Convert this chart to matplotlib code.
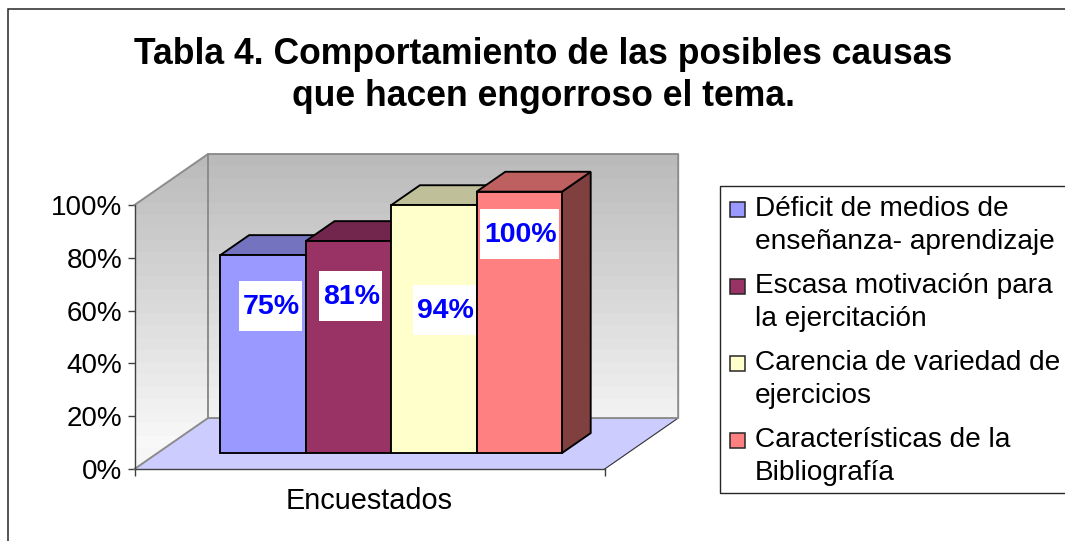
import numpy as np
import matplotlib
matplotlib.use('Agg')
import matplotlib.pyplot as plt
from matplotlib.patches import Polygon, Rectangle

plt.rcParams['font.family'] = ['Liberation Sans', 'DejaVu Sans']

title = 'Tabla 4. Comportamiento de las posibles causas\nque hacen engorroso el tema.'
category = 'Encuestados'
series = ['Déficit de medios de\nenseñanza- aprendizaje',
          'Escasa motivación para\nla ejercitación',
          'Carencia de variedad de\nejercicios',
          'Características de la\nBibliografía']
values = [75, 80.3, 93.9, 99]
value_labels = ['75%', '81%', '94%', '100%']
colors = ['#9999FF', '#993366', '#FFFFCC', '#FF8080']
y_ticks = [0, 20, 40, 60, 80, 100]
y_tick_labels = ['0%', '20%', '40%', '60%', '80%', '100%']

W, H = 1065, 541

# label boxes sit by hand like in the original, centre in axis units
label_x = [0.2892, 0.4594, 0.6593, 0.8188]
label_y = [61.7, 65.5, 60.2, 89.0]
label_w = [0.134, 0.134, 0.134, 0.168]
label_h = 18.9

# oblique depth of the floor, in axis units
depth_x = 0.1563
depth_y = 19.3
bar_front = 0.314
bar_depth = 0.39
bar_start = 0.1338
bar_width = 0.1816


def shade(color, k):
    rgb = matplotlib.colors.to_rgb(color)
    return tuple(c * k for c in rgb)


def fig_xy(x, y):
    return x / W, 1 - y / H


fig = plt.figure(figsize=(W / 100, H / 100), dpi=100)
fig.add_artist(Rectangle(fig_xy(7.5, 560), 1100 / W, 551 / H, transform=fig.transFigure,
                         fc='white', ec='#262626', lw=1.1, zorder=-5))

ax = fig.add_axes([134.5 / W, 1 - 469 / H, 470.2 / W, 264 / H])
ax.set_xlim(0, 1)
ax.set_ylim(0, 100)
ax.patch.set_visible(False)

# walls, one gradient through both
wall_outline = [(0, 0), (depth_x, depth_y), (1 + depth_x, depth_y), (1 + depth_x, 100 + depth_y),
                (depth_x, 100 + depth_y), (0, 100)]
gradient = np.linspace(0.73, 0.97, 24).reshape(-1, 1)
img = ax.imshow(gradient, cmap='gray', vmin=0, vmax=1, aspect='auto', origin='upper',
                extent=(0, 1 + depth_x, 8, 100 + depth_y), interpolation='nearest', zorder=1)
clip = Polygon(wall_outline, transform=ax.transData, fc='#F6F6F6', ec='none', clip_on=False, zorder=0.5)
ax.add_patch(clip)
img.set_clip_box(fig.bbox)
img.set_clip_path(clip)
ax.set_xlim(0, 1)
ax.set_ylim(0, 100)

# floor
ax.add_patch(Polygon([(0, 0), (1, 0), (1 + depth_x, depth_y), (depth_x, depth_y)],
                     fc='#CCCCFF', ec='none', clip_on=False, zorder=2))
ax.plot([1, 1 + depth_x], [0, depth_y], color='#303030', lw=0.8, clip_on=False, zorder=2)

wall_style = dict(color='#8C8C8C', lw=1.4, clip_on=False, zorder=2)
ax.plot([0, depth_x, depth_x], [0, depth_y, 100 + depth_y], **wall_style)
ax.plot([0, depth_x, 1 + depth_x, 1 + depth_x, depth_x], [100, 100 + depth_y, 100 + depth_y, depth_y, depth_y],
        **wall_style)

# bars, left to right so each one covers the side of the previous
base_x = bar_front * depth_x
base_y = bar_front * depth_y
dx = bar_depth * depth_x
dy = bar_depth * depth_y
bar_style = dict(ec='black', lw=1.35, clip_on=False, zorder=3, joinstyle='miter')
for i, v in enumerate(values):
    x0 = bar_start + base_x + i * bar_width
    x1 = x0 + bar_width
    y0 = base_y
    y1 = base_y + v
    ax.add_patch(Polygon([(x1, y0), (x1 + dx, y0 + dy), (x1 + dx, y1 + dy), (x1, y1)],
                         fc=shade(colors[i], 0.5), **bar_style))
    ax.add_patch(Polygon([(x0, y1), (x1, y1), (x1 + dx, y1 + dy), (x0 + dx, y1 + dy)],
                         fc=shade(colors[i], 0.75), **bar_style))
    ax.add_patch(Rectangle((x0, y0), bar_width, v, fc=colors[i], **bar_style))

for i, lab in enumerate(value_labels):
    ax.add_patch(Rectangle((label_x[i] - label_w[i] / 2, label_y[i] - label_h / 2), label_w[i], label_h,
                           fc='white', ec='none', clip_on=False, zorder=4))
    ax.text(label_x[i] + 0.002, label_y[i] - 0.4, lab, color='#0000FF', fontsize=20.5, fontweight='bold',
            ha='center', va='center', zorder=5)

for s in ['top', 'right']:
    ax.spines[s].set_visible(False)
for s in ['left', 'bottom']:
    ax.spines[s].set_color('#404040')
    ax.spines[s].set_linewidth(1.0)
    ax.spines[s].set_zorder(6)

ax.set_yticks(y_ticks)
ax.set_yticklabels(y_tick_labels, fontsize=20)
ax.tick_params(axis='y', length=5, width=1, color='#404040', pad=4)
ax.set_xticks([0, 1])
ax.set_xticklabels(['', ''])
ax.set_xticks([0.5], [category], minor=True, fontsize=20.8)
ax.tick_params(axis='x', which='major', length=5, width=1, color='#404040')
ax.tick_params(axis='x', which='minor', length=0, pad=13)

fig.text(543 / W, 1 - 37 / H, title, fontsize=25.6, fontweight='bold', ha='center', va='top',
         linespacing=1.27, color='black')

# legend, keys line up with the first text line
fig.add_artist(Rectangle(fig_xy(719.5, 492.5), 400 / W, 307 / H, transform=fig.transFigure,
                         fc='white', ec='#262626', lw=1.0, zorder=-4))
for i, name in enumerate(series):
    top = 193 + i * 77
    fig.add_artist(Rectangle(fig_xy(730, top + 24), 15 / W, 15 / H, transform=fig.transFigure,
                             fc=colors[i], ec='#262626', lw=1.1))
    fig.text(755 / W, 1 - (top + 3) / H, name, fontsize=20.2, ha='left', va='top', linespacing=1.33,
             color='black')

fig.savefig('out.png', dpi=100, facecolor='white')
